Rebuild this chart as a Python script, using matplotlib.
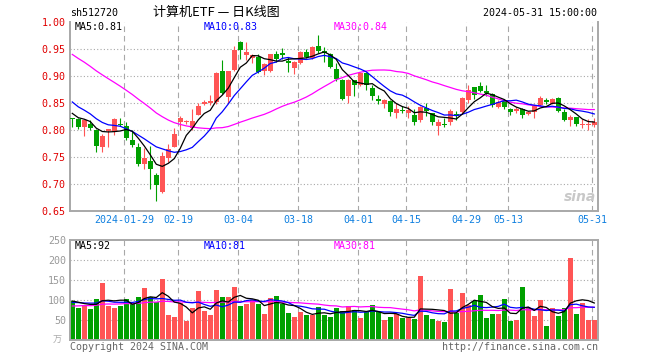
import math

import matplotlib
matplotlib.use("Agg")
import matplotlib.pyplot as plt
import pandas as pd

# daily bars, 2024-01-16 .. 2024-05-31 (88 trading days)
opens = [0.821, 0.821, 0.805, 0.812, 0.800, 0.768, 0.798, 0.796, 0.812, 0.807,
         0.782, 0.768, 0.737, 0.743, 0.717, 0.686, 0.748, 0.769, 0.815, 0.814,
         0.803, 0.828, 0.849, 0.850, 0.851, 0.909, 0.862, 0.912, 0.963, 0.938,
         0.934, 0.935, 0.910, 0.909, 0.940, 0.943, 0.928, 0.914, 0.925, 0.944,
         0.934, 0.956, 0.947, 0.941, 0.913, 0.892, 0.863, 0.892, 0.883, 0.905,
         0.877, 0.858, 0.849, 0.853, 0.832, 0.836, 0.832, 0.828, 0.819, 0.840,
         0.831, 0.808, 0.811, 0.814, 0.830, 0.833, 0.855, 0.879, 0.881, 0.872,
         0.867, 0.843, 0.854, 0.839, 0.836, 0.839, 0.830, 0.834, 0.846, 0.855,
         0.849, 0.860, 0.834, 0.818, 0.824, 0.810, 0.810, 0.809]
highs = [0.823, 0.823, 0.821, 0.819, 0.802, 0.792, 0.802, 0.823, 0.823, 0.815,
         0.800, 0.776, 0.766, 0.771, 0.720, 0.760, 0.774, 0.803, 0.826, 0.818,
         0.839, 0.850, 0.855, 0.865, 0.907, 0.929, 0.910, 0.955, 0.965, 0.963,
         0.941, 0.941, 0.925, 0.941, 0.946, 0.952, 0.935, 0.928, 0.947, 0.950,
         0.956, 0.976, 0.953, 0.943, 0.925, 0.895, 0.895, 0.893, 0.907, 0.907,
         0.883, 0.865, 0.857, 0.855, 0.850, 0.844, 0.845, 0.838, 0.844, 0.850,
         0.832, 0.821, 0.823, 0.838, 0.836, 0.861, 0.883, 0.880, 0.889, 0.883,
         0.868, 0.855, 0.857, 0.841, 0.843, 0.840, 0.836, 0.848, 0.863, 0.860,
         0.859, 0.861, 0.838, 0.827, 0.825, 0.821, 0.821, 0.822]
lows = [0.806, 0.801, 0.789, 0.800, 0.760, 0.760, 0.769, 0.790, 0.807, 0.782,
        0.769, 0.734, 0.727, 0.690, 0.668, 0.684, 0.740, 0.768, 0.800, 0.812,
        0.800, 0.827, 0.846, 0.846, 0.848, 0.867, 0.850, 0.910, 0.932, 0.930,
        0.925, 0.905, 0.901, 0.908, 0.926, 0.932, 0.907, 0.903, 0.923, 0.933,
        0.932, 0.942, 0.926, 0.914, 0.891, 0.855, 0.850, 0.863, 0.881, 0.875,
        0.855, 0.848, 0.840, 0.826, 0.823, 0.831, 0.823, 0.809, 0.814, 0.826,
        0.809, 0.791, 0.806, 0.810, 0.819, 0.830, 0.850, 0.858, 0.870, 0.863,
        0.843, 0.840, 0.838, 0.828, 0.831, 0.822, 0.827, 0.822, 0.845, 0.849,
        0.848, 0.834, 0.817, 0.807, 0.808, 0.804, 0.800, 0.806]
closes = [0.820, 0.805, 0.818, 0.803, 0.771, 0.789, 0.801, 0.821, 0.809, 0.785,
          0.772, 0.737, 0.749, 0.727, 0.698, 0.752, 0.765, 0.793, 0.823, 0.817,
          0.817, 0.844, 0.852, 0.853, 0.905, 0.869, 0.909, 0.949, 0.949, 0.944,
          0.938, 0.907, 0.922, 0.940, 0.931, 0.938, 0.925, 0.925, 0.944, 0.936,
          0.953, 0.947, 0.943, 0.916, 0.895, 0.858, 0.893, 0.884, 0.905, 0.884,
          0.863, 0.854, 0.855, 0.834, 0.839, 0.835, 0.837, 0.815, 0.842, 0.835,
          0.815, 0.815, 0.810, 0.836, 0.826, 0.860, 0.875, 0.865, 0.872, 0.869,
          0.846, 0.852, 0.843, 0.833, 0.838, 0.827, 0.833, 0.846, 0.860, 0.851,
          0.857, 0.836, 0.819, 0.825, 0.811, 0.811, 0.812, 0.815]
volumes = [97.5, 80, 88, 77.5, 102.5, 143, 86, 80, 86, 102.5,
           92, 107.5, 130, 107.5, 94, 152.5, 62.5, 57.5, 92, 47.5,
           80, 123, 72, 62, 125, 107.5, 107.5, 132, 85, 90,
           100, 90, 65, 105, 110, 90, 67.5, 57.5, 70, 62.5,
           62.5, 82.5, 62.5, 57.5, 79, 72.5, 85, 75, 55, 69,
           87.5, 69, 50, 57.5, 65, 55, 55, 52.5, 161, 62.5,
           52.5, 47.5, 45, 127.5, 67.5, 117.5, 87.5, 97.5, 112.5, 55,
           65, 65, 102.5, 47.5, 50, 132.5, 80, 59, 100, 35,
           80, 60, 80, 205, 65, 92.5, 50, 50]

# 29 sessions before the window, only needed to warm up the moving averages
pre_closes = [1.030, 1.025, 1.035, 1.020, 1.010, 1.015, 1.028, 1.022, 1.010, 1.005,
              0.995, 0.990, 0.980, 0.972, 0.960, 0.950, 0.940, 0.920, 0.900, 0.873,
              0.895, 0.880, 0.872, 0.860, 0.858, 0.845, 0.832, 0.825, 0.832]
pre_volumes = [70, 65, 85, 75, 60, 72, 90, 68, 80, 95,
               88, 76, 70, 92, 85, 78, 95, 82, 88, 96,
               85, 98, 80, 102, 87.5, 95, 105, 88, 102]

tick_idx = [9, 18, 28, 38, 48, 56, 66, 73, 87]
tick_labels = ["2024-01-29", "02-19", "03-04", "03-18", "04-01",
               "04-15", "04-29", "05-13", "05-31"]

RED = "#ff5555"
GREEN = "#00a000"
GRID = "#a8a8a8"
MONO = ["DejaVu Sans Mono", "Noto Sans CJK SC"]
W, H = 660, 360


def moving_average(pre, vals, n):
    s = pd.Series(list(pre) + list(vals)).rolling(n).mean()
    return s.iloc[len(pre):].to_numpy()


def px(x, y):
    return x / W, 1 - y / H


def style_axes(ax, hgrid):
    for side in ["left", "right", "bottom", "top"]:
        ax.spines[side].set_color(GRID)
        ax.spines[side].set_linewidth(1.4)
    for t in tick_idx:
        ax.axvline(t - 0.3, color=GRID, lw=0.8, ls=(0, (5, 3.5)), zorder=0)
    for v in hgrid:
        ax.axhline(v, color=GRID, lw=0.8, ls=(0, (1, 2)), zorder=0)
    ax.set_xlim(-0.38, 87.62)


fig = plt.figure(figsize=(W / 100, H / 100), dpi=100)
ax = fig.add_axes([70 / W, 1 - 211 / H, 528 / W, 189 / H])
axv = fig.add_axes([70 / W, 1 - 340 / H, 528 / W, 100 / H])

x = list(range(len(closes)))
colors = [RED if c >= o else GREEN for o, c in zip(opens, closes)]

# price panel
style_axes(ax, [0.70, 0.75, 0.80, 0.85, 0.90, 0.95])
ax.spines["top"].set_visible(False)
ax.vlines(x, lows, highs, colors=colors, lw=0.8, zorder=2)
bottoms = [min(o, c) for o, c in zip(opens, closes)]
heights = [max(abs(c - o), 0.0019) for o, c in zip(opens, closes)]
ax.bar(x, heights, bottom=bottoms, width=0.82, color=colors, lw=0, zorder=3)
ma5 = moving_average(pre_closes, closes, 5)
ma10 = moving_average(pre_closes, closes, 10)
ma30 = moving_average(pre_closes, closes, 30)
ax.plot(x, ma30, color="#ff00ff", lw=0.9, zorder=4)
ax.plot(x, ma10, color="#0000ff", lw=0.9, zorder=4)
ax.plot(x, ma5, color="black", lw=0.9, zorder=5)
ax.set_ylim(0.65, 1.00)
ax.set_yticks([0.65, 0.70, 0.75, 0.80, 0.85, 0.90, 0.95, 1.00])
ax.set_yticklabels([f"{v:.2f}" for v in ax.get_yticks()], family=MONO, fontsize=7.2)
ax.tick_params(axis="y", colors="#e00000", length=0, pad=3)
ax.set_xticks([t - 0.3 for t in tick_idx])
ax.set_xticklabels(tick_labels, family=MONO, fontsize=7.2)
ax.tick_params(axis="x", colors="#1080e0", length=0, pad=3)

# volume panel
style_axes(axv, [50, 100, 150, 200])
axv.bar(x, volumes, width=0.82, color=colors, lw=0, zorder=2)
vma5 = moving_average(pre_volumes, volumes, 5)
vma10 = moving_average(pre_volumes, volumes, 10)
vma30 = moving_average(pre_volumes, volumes, 30)
axv.plot(x, vma30, color="#ff00ff", lw=0.9, zorder=4)
axv.plot(x, vma10, color="#0000ff", lw=0.9, zorder=4)
axv.plot(x, vma5, color="black", lw=0.9, zorder=5)
axv.set_ylim(0, 250)
axv.set_yticks([50, 100, 150, 200, 250])
axv.set_yticklabels(["50", "100", "150", "200", "250"], family=MONO, fontsize=7.2)
axv.tick_params(axis="y", colors="#999999", length=0, pad=3)
axv.set_xticks([])

# header / legends (prices rounded, volumes cut to whole 万)
fig.text(*px(70, 13), "sh512720", family=MONO, fontsize=7.2, va="center", ha="left")
fig.text(*px(216, 12), "计算机ETF — 日K线图", family=["Noto Sans CJK SC", "DejaVu Sans"],
         fontsize=9.4, va="center", ha="center")
fig.text(*px(597, 13), "2024-05-31 15:00:00", family=MONO, fontsize=7.2, va="center", ha="right")

fig.text(*px(75, 27), f"MA5:{ma5[-1]:.2f}", family=MONO, fontsize=7.2, va="center", color="black")
fig.text(*px(204, 27), f"MA10:{ma10[-1]:.2f}", family=MONO, fontsize=7.2, va="center", color="#0000ff")
fig.text(*px(334, 27), f"MA30:{ma30[-1]:.2f}", family=MONO, fontsize=7.2, va="center", color="#ff00ff")
fig.text(*px(75, 246), f"MA5:{math.floor(vma5[-1])}", family=MONO, fontsize=7.2, va="center", color="black")
fig.text(*px(204, 246), f"MA10:{math.floor(vma10[-1])}", family=MONO, fontsize=7.2, va="center", color="#0000ff")
fig.text(*px(334, 246), f"MA30:{math.floor(vma30[-1])}", family=MONO, fontsize=7.2, va="center", color="#ff00ff")

fig.text(*px(57, 340), "万", family=["Noto Sans CJK SC"], fontsize=6.5, va="center",
         ha="center", color="#aaaaaa")
fig.text(*px(70, 347), "Copyright 2024 SINA.COM", family=MONO, fontsize=7.2,
         va="center", ha="left", color="#666666")
fig.text(*px(598, 347), "http://finance.sina.com.cn", family=MONO, fontsize=7.2,
         va="center", ha="right", color="#666666")
fig.text(*px(580, 197), "sina", fontsize=10, fontweight="bold", style="italic",
         va="center", ha="center", color="#c8c8c8")

fig.savefig("out.png", dpi=100)
